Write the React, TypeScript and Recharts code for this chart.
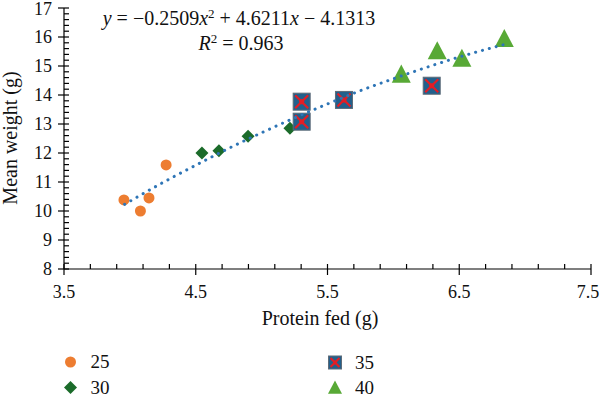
import { ScatterChart, Scatter, XAxis, YAxis } from 'recharts';

// values
const group25 = [
  { x: 3.955, y: 10.38 },
  { x: 4.08, y: 10.0 },
  { x: 4.145, y: 10.45 },
  { x: 4.275, y: 11.59 },
];
const group30 = [
  { x: 4.547, y: 12.0 },
  { x: 4.676, y: 12.08 },
  { x: 4.897, y: 12.58 },
  { x: 5.215, y: 12.85 },
];
const group35 = [
  { x: 5.304, y: 13.77 },
  { x: 5.304, y: 13.08 },
  { x: 5.625, y: 13.83 },
  { x: 6.291, y: 14.32 },
];
const group40 = [
  { x: 6.06, y: 14.72 },
  { x: 6.333, y: 15.53 },
  { x: 6.52, y: 15.27 },
  { x: 6.842, y: 15.95 },
];
// dotted polynomial trend line
const trend = [
  { x: 3.96, y: 10.23 },
  { x: 4.25, y: 10.98 },
  { x: 4.5, y: 11.58 },
  { x: 4.75, y: 12.16 },
  { x: 5.0, y: 12.7 },
  { x: 5.25, y: 13.21 },
  { x: 5.5, y: 13.69 },
  { x: 5.75, y: 14.15 },
  { x: 6.0, y: 14.56 },
  { x: 6.25, y: 14.95 },
  { x: 6.5, y: 15.31 },
  { x: 6.85, y: 15.75 },
];

const xMajor = [3.5, 4.5, 5.5, 6.5, 7.5];
const yMajor = [8, 9, 10, 11, 12, 13, 14, 15, 16, 17];

// minor ticks every 0.2
const xTicks: number[] = [];
for (let i = 0; i <= 20; i++) xTicks.push(Math.round((3.5 + i * 0.2) * 10) / 10);
const yTicks: number[] = [];
for (let i = 0; i <= 45; i++) yTicks.push(Math.round((8 + i * 0.2) * 10) / 10);

const FONT = '"Liberation Serif", "DejaVu Serif", serif';
const ORANGE = '#ED7D31';
const DKGREEN = '#1B6B2A';
const BLUE = '#22608C';
const RED = '#E31D25';
const LTGREEN = '#58A936';

const txt = { fontFamily: FONT };

const isMajor = (v: number, list: number[]) => list.some(m => Math.abs(m - v) < 1e-6);

const XTick = (props: any) => {
  const { x, y, payload } = props;
  const major = isMajor(payload.value, xMajor);
  return (
    <g>
      <line x1={x} x2={x} y1={y - 5} y2={major ? y + 6 : y} stroke="#000" strokeWidth={1.2} />
      {major && (
        <text x={payload.value === 7.5 ? x - 3 : x} y={y + 29} textAnchor="middle" style={txt} fontSize={18} fill="#111">
          {payload.value}
        </text>
      )}
    </g>
  );
};

const YTick = (props: any) => {
  const { x, y, payload } = props;
  const major = isMajor(payload.value, yMajor);
  return (
    <g>
      <line x1={major ? x - 6 : x} x2={x + 5} y1={y} y2={y} stroke="#000" strokeWidth={1.2} />
      {major && (
        <text x={x - 12} y={payload.value === 17 ? y + 7 : y + 6} textAnchor="end" style={txt} fontSize={18} fill="#111">
          {payload.value}
        </text>
      )}
    </g>
  );
};

const Circle = ({ cx, cy, s = 5.5 }: any) => <circle cx={cx} cy={cy} r={s} fill={ORANGE} />;

const Diamond = ({ cx, cy, s = 6.5 }: any) => (
  <polygon points={`${cx},${cy - s} ${cx + s},${cy} ${cx},${cy + s} ${cx - s},${cy}`} fill={DKGREEN} />
);

const XSquare = ({ cx, cy, s = 8.5 }: any) => (
  <g>
    <rect x={cx - s} y={cy - s} width={2 * s} height={2 * s} fill={BLUE} stroke="#5d6b78" strokeWidth={1} />
    <line x1={cx - s + 2} y1={cy - s + 2} x2={cx + s - 2} y2={cy + s - 2} stroke={RED} strokeWidth={2.2} />
    <line x1={cx + s - 2} y1={cy - s + 2} x2={cx - s + 2} y2={cy + s - 2} stroke={RED} strokeWidth={2.2} />
    <circle cx={cx} cy={cy} r={s * 0.3} fill={RED} />
  </g>
);

const Triangle = ({ cx, cy, s = 9.5 }: any) => (
  <polygon points={`${cx},${cy - s} ${cx + s},${cy + s * 0.9} ${cx - s},${cy + s * 0.9}`} fill={LTGREEN} />
);

const legendItems = [
  { label: '25', x: 70.5, y: 362, Mark: Circle, s: 5.5 },
  { label: '30', x: 70.5, y: 387.5, Mark: Diamond, s: 6.5 },
  { label: '35', x: 335, y: 362.5, Mark: XSquare, s: 6.5 },
  { label: '40', x: 335, y: 387.5, Mark: Triangle, s: 7 },
];

export default function App() {
  return (
    <div style={{ position: 'absolute', left: 0, top: 0, width: 600, height: 396, background: '#fff' }}>
      <ScatterChart width={600} height={396} margin={{ top: 8, right: 9, bottom: 57, left: 0 }}>
        <XAxis
          type="number"
          dataKey="x"
          domain={[3.5, 7.5]}
          ticks={xTicks}
          interval={0}
          height={70}
          tickSize={0}
          tickMargin={0}
          tick={<XTick />}
          axisLine={{ stroke: '#000', strokeWidth: 1.2 }}
          allowDataOverflow
        />
        <YAxis
          type="number"
          dataKey="y"
          domain={[8, 17]}
          ticks={yTicks}
          interval={0}
          width={64}
          tickSize={0}
          tickMargin={0}
          tick={<YTick />}
          axisLine={{ stroke: '#000', strokeWidth: 1.2 }}
          allowDataOverflow
        />
        <Scatter name="25" data={group25} shape={<Circle />} isAnimationActive={false} />
        <Scatter name="30" data={group30} shape={<Diamond />} isAnimationActive={false} />
        <Scatter name="35" data={group35} shape={<XSquare />} isAnimationActive={false} />
        <Scatter name="40" data={group40} shape={<Triangle />} isAnimationActive={false} />
        <Scatter
          name="trend"
          data={trend}
          shape={() => <g />}
          line={{ stroke: '#2E75B6', strokeWidth: 3, strokeDasharray: '0.1 7', strokeLinecap: 'round' }}
          lineJointType="monotoneX"
          isAnimationActive={false}
        />
      </ScatterChart>
      <svg width={600} height={396} style={{ position: 'absolute', left: 0, top: 0, pointerEvents: 'none' }}>
        <text x={239} y={25} textAnchor="middle" style={txt} fontSize={20} fill="#111">
          <tspan fontStyle="italic">y</tspan> = −0.2509<tspan fontStyle="italic">x</tspan>
          <tspan dy={-7} fontSize={13}>2</tspan>
          <tspan dy={7}> + 4.6211</tspan><tspan fontStyle="italic">x</tspan> − 4.1313
        </text>
        <text x={241} y={50} textAnchor="middle" style={txt} fontSize={20} fill="#111">
          <tspan fontStyle="italic">R</tspan>
          <tspan dy={-7} fontSize={13}>2</tspan>
          <tspan dy={7}> = 0.963</tspan>
        </text>
        <text x={320} y={325} textAnchor="middle" style={txt} fontSize={20} fill="#111">
          Protein fed (g)
        </text>
        <text
          transform="translate(17,138) rotate(-90)"
          textAnchor="middle"
          style={txt}
          fontSize={20}
          fill="#111"
        >
          Mean weight (g)
        </text>
        {legendItems.map(it => (
          <g key={it.label}>
            <it.Mark cx={it.x} cy={it.y} s={it.s} />
            <text x={it.x + 20} y={it.y + 6} style={txt} fontSize={19} fill="#111">
              {it.label}
            </text>
          </g>
        ))}
      </svg>
    </div>
  );
}
